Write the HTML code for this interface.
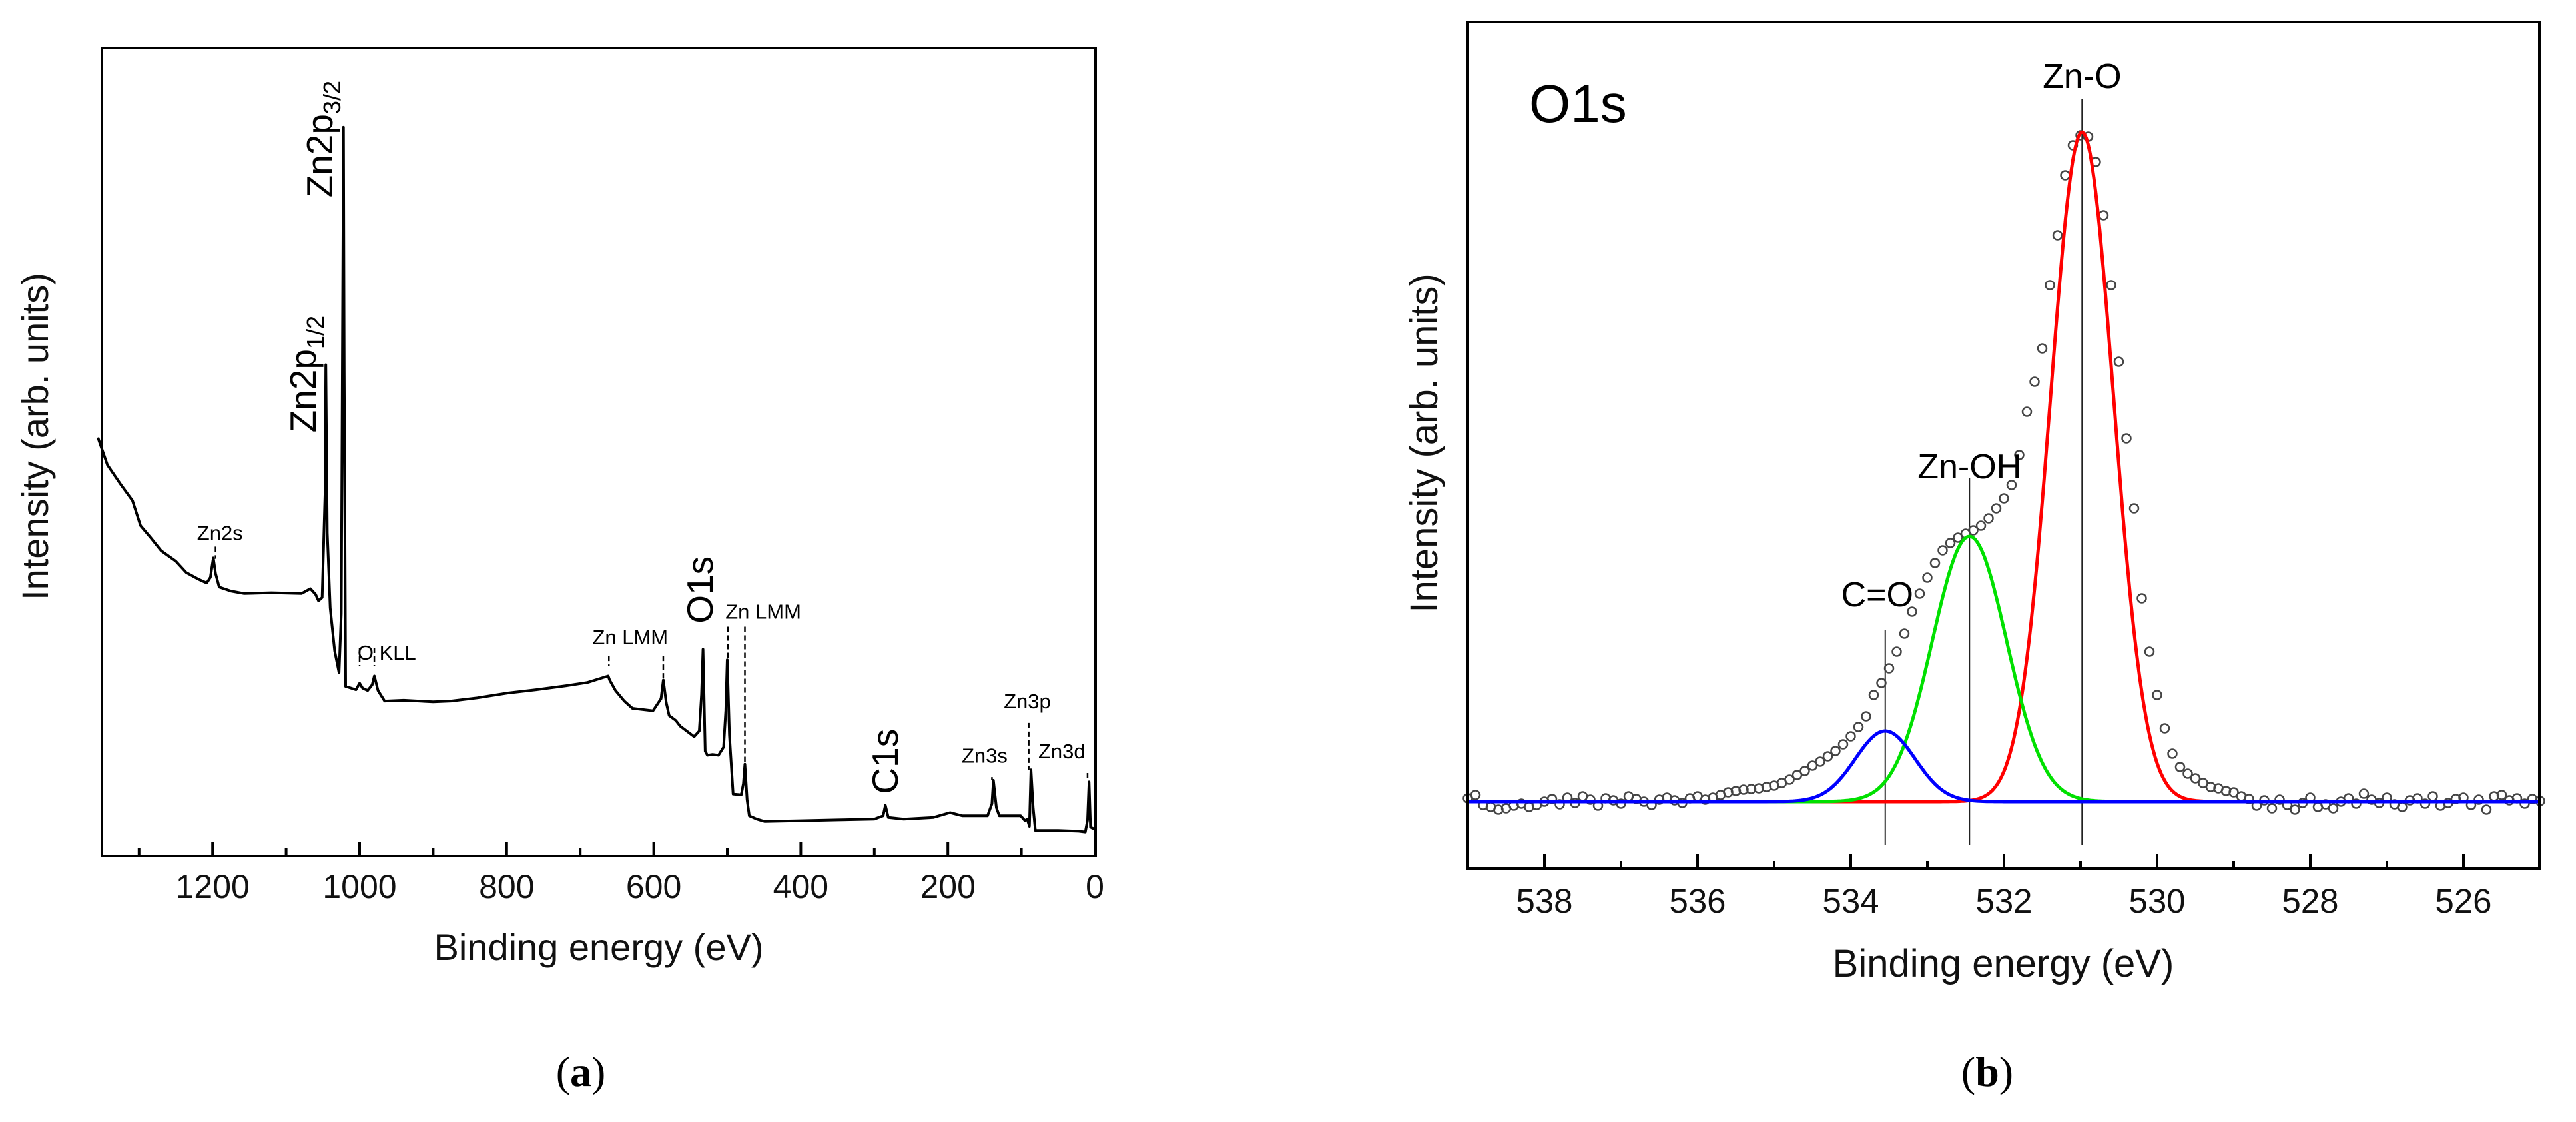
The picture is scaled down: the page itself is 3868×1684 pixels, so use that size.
<!DOCTYPE html>
<html><head><meta charset="utf-8">
<style>
html,body{margin:0;padding:0;background:#fff;}
svg{display:block;font-family:"Liberation Sans",Arial,sans-serif;}
</style></head>
<body>
<svg id="fig" width="3868" height="1684" viewBox="0 0 3868 1684" xmlns="http://www.w3.org/2000/svg">
<rect width="3868" height="1684" fill="#fff"/>
<g id="panelA"></g>
<g id="panelB"></g>
</svg>
<script>
// ---------- Panel (a) data ----------
const surveyEnergy = [1356,1343,1325,1309,1298,1285,1270,1250,1236,1220,1208,1203,1199,1196,1191,1175,1157,1120,1079,1067,1060,1056,1051,1047,1046,1044,1040,1034,1028,1025,1023,1022,1021,1019,1015,1005,1000,996,989,983,980,975,966,940,900,876,840,798,760,719,690,662,660,652,640,629,601,590,587,583,579,570,564,545,538,535,533,530,527,520,512,505,502,500,497,492,481,478,476,473,470,460,449,400,350,300,288,285,281,260,220,197,180,146,140,138,134,130,101,95,92,89,87,84,81,50,22,13,10,8,6,4,-2];
const surveyIntensity = [51.8,48.4,46,44,40.9,39.5,37.8,36.5,35.1,34.3,33.8,34.5,36.9,35,33.3,32.8,32.5,32.6,32.5,33.1,32.4,31.6,32,45,60.8,40,30.7,25.4,22.7,30,70,90.2,60,21,20.9,20.6,21.4,20.8,20.5,21.2,22.3,20.5,19.2,19.3,19.1,19.2,19.6,20.2,20.6,21.1,21.5,22.3,21.8,20.5,19.2,18.3,18,19.5,21.8,19,17.4,16.8,16.1,14.8,15.5,20,25.6,13,12.5,12.6,12.5,13.5,18,24.3,15,7.7,7.6,9,11.4,7,5,4.6,4.3,4.4,4.5,4.6,5,6.3,4.8,4.6,4.8,5.4,5,5,6.5,9.4,6,5,5,4.4,4.6,3.7,10.7,6,3.2,3.2,3.1,3,4.5,9.2,3.6,3.5,3.3];
const surveyTicks = [1200,1000,800,600,400,200,0];
const surveyMinor = [1300,1100,900,700,500,300,100];
const bigLabels = ["Zn2p", "Zn2p", "O1s", "C1s"];
const bigSubs = ["3/2", "1/2", "", ""];
const bigLabelEnergy = [1037, 1060, 520, 268];
const bigLabelStart = [81.5, 52.4, 28.8, 7.7];
const smallLabels = ["Zn2s","O KLL","Zn LMM","Zn LMM","Zn3p","Zn3s","Zn3d"];
const smallLabelEnergy = [1190,963,632,451,92,150,45];
const smallLabelY = [39.1,24.3,26.2,29.4,18.3,11.6,12.1];
const leaderEnergy = [1196,1000,980,661,587,499,476,90,140,10];
const leaderTop = [38.3,25.8,25.8,24.8,24.8,28.4,28.4,16.5,9.8,10.3];
const leaderBottom = [36.8,23.5,23.5,23.5,22,24.3,11.4,10.7,9.4,9.2];

// ---------- Panel (b) data ----------
const o1sEnergy = [];
for (let i = 0; i <= 140; i++) o1sEnergy.push(+(539 - i * 0.1).toFixed(1));
const o1sIntensity = [5,10,-5,-8,-12,-10,-6,-3,-8,-5,0,4,-4,6,-2,8,3,-6,5,2,-3,8,4,0,-5,3,6,2,-2,5,8,3,6,10,14,
16,18,19,20,22,24,28,33,40,46,54,60,68,76,86,98,112,128,160,178,200,225,252,285,312,336,358,377,388,396,402,407,414,425,440,455,475,520,585,630,680,775,850,940,985,1000,998,960,880,775,660,545,440,305,225,160,110,72,52,42,35,28,22,20,16,14,8,
4,-6,2,-10,3,-5,-12,-2,6,-8,-4,-10,0,5,-3,12,3,-2,6,-4,-8,2,5,-3,8,-6,-2,4,6,-5,3,-12,8,10,2,5,-3,4,1];
const fitNames = ["Zn-O","Zn-OH","C=O"];
const fitCenter = [530.98, 532.45, 533.55];
const fitHeight = [1005, 398, 106];
const fitSigma = [0.41, 0.485, 0.39];
const fitColor = ["#ff0000","#00e000","#0000ff"];
const o1sTicks = [538,536,534,532,530,528,526];
const o1sMinor = [537,535,533,531,529,527,525];

const NS = "http://www.w3.org/2000/svg";
function mk(parent, tag, attrs, text) {
  const e = document.createElementNS(NS, tag);
  for (const k in attrs) e.setAttribute(k, attrs[k]);
  if (text !== undefined) e.textContent = text;
  parent.appendChild(e);
  return e;
}

// ===== Panel A =====
(function(){
  const g = document.getElementById("panelA");
  const L = 153, R = 1645, T = 72, B = 1285;
  const xA = e => 1644 - e * 1.104;
  const yA = v => B - v / 100 * (B - T);
  let d = "";
  surveyEnergy.forEach((e, i) => { d += (i ? "L" : "M") + xA(e).toFixed(1) + "," + yA(surveyIntensity[i]).toFixed(1); });
  const p = mk(g, "path", {d: d, fill: "none", stroke: "#000", "stroke-width": 4, "stroke-linejoin": "round"});
  
  
  const fr = mk(g, "rect", {x: L, y: T, width: R - L, height: B - T, fill: "none", stroke: "#000", "stroke-width": 4});
  
  
  surveyTicks.forEach(t => {
    const tk = mk(g, "line", {x1: xA(t), x2: xA(t), y1: B, y2: B - 22, stroke: "#000", "stroke-width": 4});
    
    
    const tl = mk(g, "text", {x: xA(t), y: 1348, "font-size": 50, "text-anchor": "middle", fill: "#111"}, String(t));
    
    
  });
  surveyMinor.forEach(t => {
    const tk = mk(g, "line", {x1: xA(t), x2: xA(t), y1: B, y2: B - 12, stroke: "#000", "stroke-width": 4});
    
    
  });
  const xt = mk(g, "text", {x: 899, y: 1441, "font-size": 56, "text-anchor": "middle", fill: "#111"}, "Binding energy (eV)");
  
  
  const yt = mk(g, "text", {x: 0, y: 0, "font-size": 56, "text-anchor": "middle", fill: "#111", transform: "translate(72,655) rotate(-90)"}, "Intensity (arb. units)");
  
  
  bigLabels.forEach((s, i) => {
    const t = mk(g, "text", {x: 0, y: 0, "font-size": 55, fill: "#000", transform: "translate(" + xA(bigLabelEnergy[i]).toFixed(1) + "," + yA(bigLabelStart[i]).toFixed(1) + ") rotate(-90)"}, s);
    if (bigSubs[i]) {
      mk(t, "tspan", {"font-size": 36, dy: 12}, bigSubs[i]);
    }
    
    
  });
  smallLabels.forEach((s, i) => {
    const t = mk(g, "text", {x: xA(smallLabelEnergy[i]), y: yA(smallLabelY[i]), "font-size": 31, "text-anchor": "middle", fill: "#000"}, s);
    
    
  });
  leaderEnergy.forEach((e, i) => {
    const ln = mk(g, "line", {x1: xA(e), x2: xA(e), y1: yA(leaderTop[i]), y2: yA(leaderBottom[i]), stroke: "#000", "stroke-width": 2.5, "stroke-dasharray": "8,5"});
    
    
  });
  const cap = mk(g, "text", {x: 872, y: 1630, "font-size": 64, "text-anchor": "middle", fill: "#000", "font-family": "Liberation Serif, serif"}, "");
  mk(cap, "tspan", {}, "(");
  mk(cap, "tspan", {"font-weight": "bold"}, "a");
  mk(cap, "tspan", {}, ")");
  
  
})();

// ===== Panel B =====
(function(){
  const g = document.getElementById("panelB");
  const L = 2204, R = 3813, T = 33, B = 1304;
  const xB = e => 2204 + (539 - e) * 115;
  const yB = v => 1203 - v;
  const refTop = [148, 717, 946];
  fitCenter.forEach((c, i) => {
    const ln = mk(g, "line", {x1: xB(c), x2: xB(c), y1: refTop[i], y2: 1268, stroke: "#222", "stroke-width": 2});
    
    
  });
  o1sEnergy.forEach((e, i) => {
    const c = mk(g, "circle", {cx: xB(e).toFixed(1), cy: yB(o1sIntensity[i]).toFixed(1), r: 6.5, fill: "none", stroke: "#444", "stroke-width": 2.5});
    
    
  });
  fitCenter.forEach((c, k) => {
    let d = "";
    for (let j = 0; j <= 560; j++) {
      const e = 539 - j * 0.025;
      const v = fitHeight[k] * Math.exp(-0.5 * Math.pow((e - c) / fitSigma[k], 2));
      d += (j ? "L" : "M") + xB(e).toFixed(1) + "," + yB(v).toFixed(1);
    }
    const p = mk(g, "path", {d: d, fill: "none", stroke: fitColor[k], "stroke-width": 5});
    
    
  });
  const fr = mk(g, "rect", {x: L, y: T, width: R - L, height: B - T, fill: "none", stroke: "#000", "stroke-width": 4});
  
  
  o1sTicks.forEach(t => {
    const tk = mk(g, "line", {x1: xB(t), x2: xB(t), y1: B, y2: B - 22, stroke: "#000", "stroke-width": 4});
    
    
    const tl = mk(g, "text", {x: xB(t), y: 1370, "font-size": 51, "text-anchor": "middle", fill: "#111"}, String(t));
    
    
  });
  o1sMinor.forEach(t => {
    const tk = mk(g, "line", {x1: xB(t), x2: xB(t), y1: B, y2: B - 12, stroke: "#000", "stroke-width": 4});
    
    
  });
  const xt = mk(g, "text", {x: 3008, y: 1466, "font-size": 58, "text-anchor": "middle", fill: "#111"}, "Binding energy (eV)");
  
  
  const yt = mk(g, "text", {x: 0, y: 0, "font-size": 58, "text-anchor": "middle", fill: "#111", transform: "translate(2158,665) rotate(-90)"}, "Intensity (arb. units)");
  
  
  const ti = mk(g, "text", {x: 2296, y: 183, "font-size": 80, fill: "#000"}, "O1s");
  
  
  const lblY = [132, 718, 910];
  fitNames.forEach((s, i) => {
    const t = mk(g, "text", {x: xB(fitCenter[i]) - (i === 2 ? 12 : 0), y: lblY[i], "font-size": 52, "text-anchor": "middle", fill: "#000"}, s);
    
    
  });
  const cap = mk(g, "text", {x: 2984, y: 1630, "font-size": 64, "text-anchor": "middle", fill: "#000", "font-family": "Liberation Serif, serif"}, "");
  mk(cap, "tspan", {}, "(");
  mk(cap, "tspan", {"font-weight": "bold"}, "b");
  mk(cap, "tspan", {}, ")");
  
  
})();
</script>
</body></html>
